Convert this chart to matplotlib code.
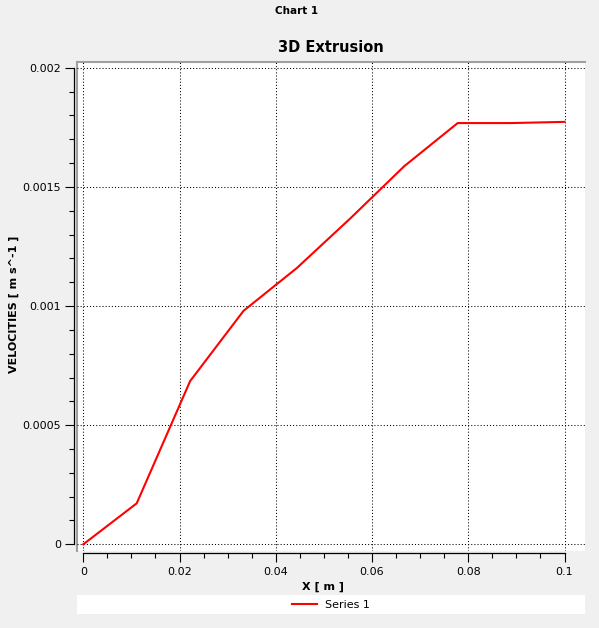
import matplotlib
matplotlib.use('Agg')
import matplotlib.pyplot as plt
from matplotlib.ticker import MultipleLocator

# data
x_vals = [0.0, 0.0111, 0.0222, 0.0333, 0.0444, 0.0556, 0.0667, 0.0778, 0.0889, 0.1]
velocity = [0.0, 0.000172, 0.000685, 0.00098, 0.00116, 0.00137, 0.001587, 0.001768, 0.001768, 0.001773]

x_ticks = [0, 0.02, 0.04, 0.06, 0.08, 0.1]
x_tick_labels = ['0', '0.02', '0.04', '0.06', '0.08', '0.1']
y_ticks = [0, 0.0005, 0.001, 0.0015, 0.002]
y_tick_labels = ['0', '0.0005', '0.001', '0.0015', '0.002']

W, H = 599, 628
BG = '#f0f0f0'
GREY = '#a0a0a0'

plt.rcParams['font.family'] = ['DejaVu Sans']

fig = plt.figure(figsize=(W / 100, H / 100), dpi=100, facecolor=BG)

# plot box position in pixels (white area)
left, right, top, bottom = 77, 585, 62, 551
pos = [left / W, 1 - bottom / H, (right - left) / W, (bottom - top) / H]

# white frame with grey top/left border
frame = fig.add_axes(pos)
frame.set_facecolor('white')
frame.set_xticks([])
frame.set_yticks([])
for side in ['right', 'bottom']:
    frame.spines[side].set_visible(False)
for side in ['top', 'left']:
    frame.spines[side].set_color(GREY)
    frame.spines[side].set_linewidth(1.5)

# main axes on top of the frame
ax = fig.add_axes(pos)
ax.patch.set_alpha(0)
ax.set_xlim(-0.00131, 0.10426)
ax.set_ylim(-0.0000281, 0.0020243)

line, = ax.plot(x_vals, velocity, color='#ff0000', linewidth=1.5, label='Series 1', zorder=3)

ax.spines['top'].set_visible(False)
ax.spines['right'].set_visible(False)
ax.spines['left'].set_position(('outward', 2))
ax.spines['bottom'].set_position(('outward', 1.5))
ax.spines['left'].set_bounds(0, 0.002)
ax.spines['bottom'].set_bounds(0, 0.1)
for side in ['left', 'bottom']:
    ax.spines[side].set_linewidth(0.9)

ax.set_xticks(x_ticks)
ax.set_xticklabels(x_tick_labels)
ax.set_yticks(y_ticks)
ax.set_yticklabels(y_tick_labels)
ax.xaxis.set_minor_locator(MultipleLocator(0.005))
ax.yaxis.set_minor_locator(MultipleLocator(0.0001))
ax.tick_params(which='major', length=6.5, width=0.8, labelsize=8)
ax.tick_params(axis='y', which='major', pad=3)
ax.tick_params(axis='x', which='major', pad=3.5)
ax.tick_params(which='minor', length=3.5, width=0.8)

ax.grid(which='major', color='black', linestyle=(0, (1, 2)), linewidth=0.75)
ax.set_axisbelow(True)

# texts
fig.text(296.5 / W, 1 - 11 / H, 'Chart 1', ha='center', va='center', fontsize=7.5, fontweight='bold')
fig.text(330.5 / W, 1 - 47 / H, '3D Extrusion', ha='center', va='center', fontsize=10.5, fontweight='bold')
fig.text(323.5 / W, 1 - 586.5 / H, 'X [ m ]', ha='center', va='center', fontsize=8, fontweight='bold')
fig.text(14 / W, 1 - 304 / H, 'VELOCITIES [ m s^-1 ]', ha='center', va='center', rotation=90,
         fontsize=8, fontweight='bold')

# legend strip
leg_ax = fig.add_axes([77 / W, 1 - 614 / H, 508 / W, 19 / H])
leg_ax.set_facecolor('white')
leg_ax.set_xticks([])
leg_ax.set_yticks([])
for s in leg_ax.spines.values():
    s.set_visible(False)
leg_ax.legend(handles=[line], loc='center', frameon=False, fontsize=8,
              handlelength=2.25, handletextpad=0.75, borderpad=0, borderaxespad=0)

fig.savefig('out.png', dpi=100, facecolor=BG)
